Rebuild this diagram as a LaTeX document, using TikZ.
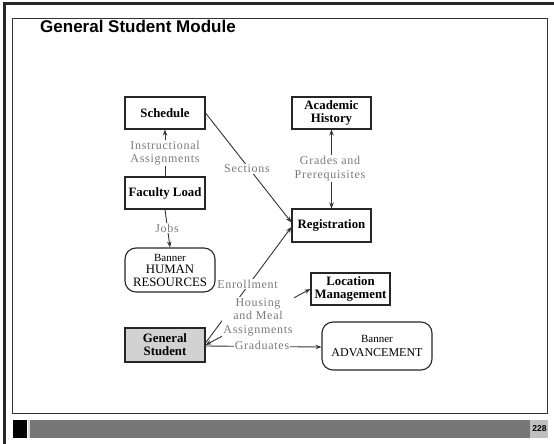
\documentclass[tikz,border=0pt]{standalone}
\usepackage{fontspec}
\setmainfont{Liberation Serif}
\newfontfamily\titlefont{Liberation Sans}
\newfontfamily\lblfont[LetterSpace=6]{Liberation Serif}
\usetikzlibrary{arrows.meta}
\definecolor{boxline}{HTML}{262626}
\definecolor{connline}{HTML}{333333}
\definecolor{lblgray}{HTML}{7A7A7A}
\definecolor{barGray}{HTML}{777777}
\definecolor{gsfill}{HTML}{D2D2D2}
\begin{document}
\begin{tikzpicture}[x=1pt,y=-1pt,
  box/.style={draw=boxline, line width=1.1pt, align=center, inner sep=0pt,
    font=\fontsize{12.8}{13}\selectfont\bfseries},
  rbox/.style={draw=boxline, line width=1.1pt, align=center, inner sep=0pt,
    rounded corners=11pt},
  lbl/.style={fill=white, text=lblgray, align=center, inner sep=1pt,
    font=\lblfont\fontsize{12}{13.5}\selectfont},
  conn/.style={draw=connline, line width=0.9pt},
  tip/.style={-{Stealth[length=6pt,width=4.5pt]}},
  btip/.style={{Stealth[length=6pt,width=4.5pt]}-{Stealth[length=6pt,width=4.5pt]}}
]
\useasboundingbox (0,0) rectangle (554,444);
\fill[white] (0,0) rectangle (554,444);
% slide frame
\draw[line width=3pt, black!85] (2.5,4) -- (554,4);
\draw[line width=3pt, black!85] (4,2.5) -- (4,444);
\draw[line width=0.9pt, black!80] (12,18) rectangle (547,413);
% bottom bar
\fill[black] (12.5,419.5) rectangle (27,438);
\fill[black!15] (27.5,419.5) rectangle (30,438);
\fill[barGray] (30,419.5) rectangle (530,438);
\fill[black!25] (530,419.5) rectangle (548,438);
\node[font=\titlefont\bfseries\fontsize{8.5}{9}\selectfont, inner sep=0pt] (pnum) at (539.5,428.5) {228};
% title
\node[anchor=base west, inner sep=0pt, font=\titlefont\bfseries\fontsize{17}{20}\selectfont] (title) at (40,33) {General Student Module};
% nodes
\node[box, minimum width=80pt, minimum height=32pt] (sched) at (165,113) {Schedule};
\node[box, minimum width=80pt, minimum height=32pt] (fac) at (165,193) {Faculty Load};
\node[rbox, minimum width=90pt, minimum height=44pt, font=\fontsize{12.8}{12.5}\selectfont] (hr) at (170,270) {{\fontsize{11}{12.5}\selectfont Banner}\\HUMAN\\RESOURCES};
\node[box, minimum width=79pt, minimum height=32pt] (hist) at (331.5,113) {Academic\\History};
\node[box, minimum width=79pt, minimum height=33pt] (reg) at (331.5,225.5) {Registration};
\node[box, minimum width=79pt, minimum height=32pt] (loc) at (350.5,289) {Location\\Management};
\node[rbox, minimum width=110pt, minimum height=48pt, font=\fontsize{12}{14}\selectfont] (adv) at (377,346) {{\fontsize{11}{14}\selectfont Banner}\\ADVANCEMENT};
\node[box, fill=gsfill, minimum width=80pt, minimum height=34pt] (gs) at (165,345) {General\\Student};
% connectors
\draw[conn, tip] (fac.north) -- (sched.south);
\draw[conn, tip] (sched.east) -- ([yshift=3pt]reg.west);
\draw[conn, btip] (hist.south) -- (reg.north);
\draw[conn, tip] (fac.south) -- (hr.north);
\draw[conn, tip] ([yshift=2pt]gs.east) -- ([yshift=-1.5pt]reg.west);
\draw[conn, btip] (gs.east) -- (loc.west);
\draw[conn, tip] ([yshift=-1pt]gs.east) -- ([yshift=-1pt]adv.west);
% labels
\node[lbl] (l1) at (165,153) {Instructional\\Assignments};
\node[lbl] (l2) at (247,169) {Sections};
\node[lbl] (l3) at (330,168.5) {Grades and\\Prerequisites};
\node[lbl] (l4) at (167,228) {Jobs};
\node[lbl] (l5) at (247.5,284) {Enrollment};
\node[lbl] (l6) at (258,317) {Housing\\and Meal\\Assignments};
\node[lbl] (l7) at (262,345.5) {Graduates};
\end{tikzpicture}
\end{document}
